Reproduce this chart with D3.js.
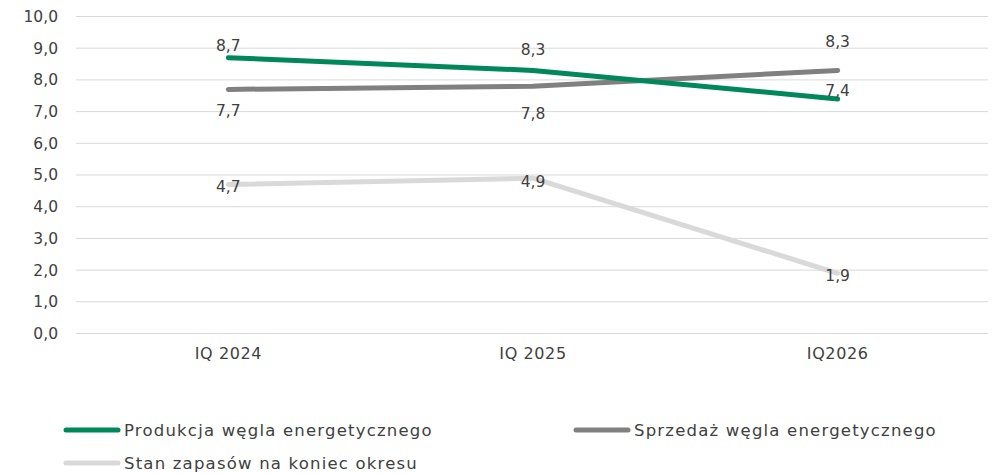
<!DOCTYPE html>
<html><head><meta charset="utf-8">
<script src="https://cdn.jsdelivr.net/npm/d3@7"></script>
<style>body{margin:0;background:#fff}svg{display:block}text{font-family:"DejaVu Sans",sans-serif;fill:#404040}</style>
</head><body><div id="c"></div>
<script>
const categories = ["IQ 2024", "IQ 2025", "IQ2026"];
const produkcja = [8.7, 8.3, 7.4];
const sprzedaz = [7.7, 7.8, 8.3];
const zapasy = [4.7, 4.9, 1.9];
const seriesNames = ["Produkcja węgla energetycznego", "Sprzedaż węgla energetycznego", "Stan zapasów na koniec okresu"];
const yTicks = [0,1,2,3,4,5,6,7,8,9,10];

const colors = ["#00875A", "#808080", "#D9D9D9"];
const labelDy = [[-12,-21,-8],[21,27,-29],[2,3,2]];

const W = 992, H = 474;
const svg = d3.select("#c").append("svg").attr("width", W).attr("height", H);
const x = d3.scaleBand().domain(categories).range([76, 990]).padding(0);
const y = d3.scaleLinear().domain([0, 10]).range([333.5, 16.5]);
const fmt = v => d3.format(".1f")(v).replace(".", ",");

svg.append("g").selectAll("line").data(yTicks).join("line")
  .attr("x1", 76).attr("x2", 988)
  .attr("y1", d => y(d)).attr("y2", d => y(d))
  .attr("stroke", "#d9d9d9").attr("stroke-width", 1);

const yAxis = d3.axisLeft(y).tickValues(yTicks).tickFormat(fmt).tickSize(0).tickPadding(0);
const gy = svg.append("g").attr("transform", "translate(58,0)").call(yAxis);
gy.select(".domain").remove();
gy.selectAll("text").attr("font-size", 15.5).attr("fill", "#404040").style("font-family", '"DejaVu Sans",sans-serif');

const xAxis = d3.axisBottom(x).tickSize(0).tickPadding(0);
const gx = svg.append("g").attr("transform", "translate(0,348)").call(xAxis);
gx.select(".domain").remove();
gx.selectAll("text").attr("font-size", 16).attr("letter-spacing", 0.6).attr("fill", "#404040").style("font-family", '"DejaVu Sans",sans-serif');

const allSeries = [produkcja, sprzedaz, zapasy];
const cx = d => x(d) + x.bandwidth() / 2;
const line = d3.line().x(d => cx(d.c)).y(d => y(d.v));

[2,1,0].forEach(i => {
  const data = allSeries[i].map((v, j) => ({c: categories[j], v}));
  svg.append("path").datum(data).attr("d", line)
    .attr("fill", "none").attr("stroke", colors[i]).attr("stroke-width", 5)
    .attr("stroke-linecap", "round").attr("stroke-linejoin", "round");
});
[2,1,0].forEach(i => {
  const data = allSeries[i].map((v, j) => ({c: categories[j], v, j}));
  svg.append("g").selectAll("text").data(data).join("text")
    .attr("x", d => cx(d.c)).attr("y", d => y(d.v) + labelDy[i][d.j])
    .attr("dy", "0.35em").attr("text-anchor", "middle").attr("font-size", 15.5)
    .text(d => fmt(d.v));
});

const legendPos = [[64, 430], [574, 430], [64, 463]];
seriesNames.forEach((n, i) => {
  const [lx, ly] = legendPos[i];
  svg.append("line").attr("x1", lx + 2).attr("x2", lx + 54).attr("y1", ly).attr("y2", ly)
    .attr("stroke", colors[i]).attr("stroke-width", 5).attr("stroke-linecap", "round");
  svg.append("text").attr("x", lx + 60).attr("y", ly).attr("dy", "0.35em")
    .attr("font-size", 16.5).attr("letter-spacing", 1.2).text(n);
});
</script></body></html>
